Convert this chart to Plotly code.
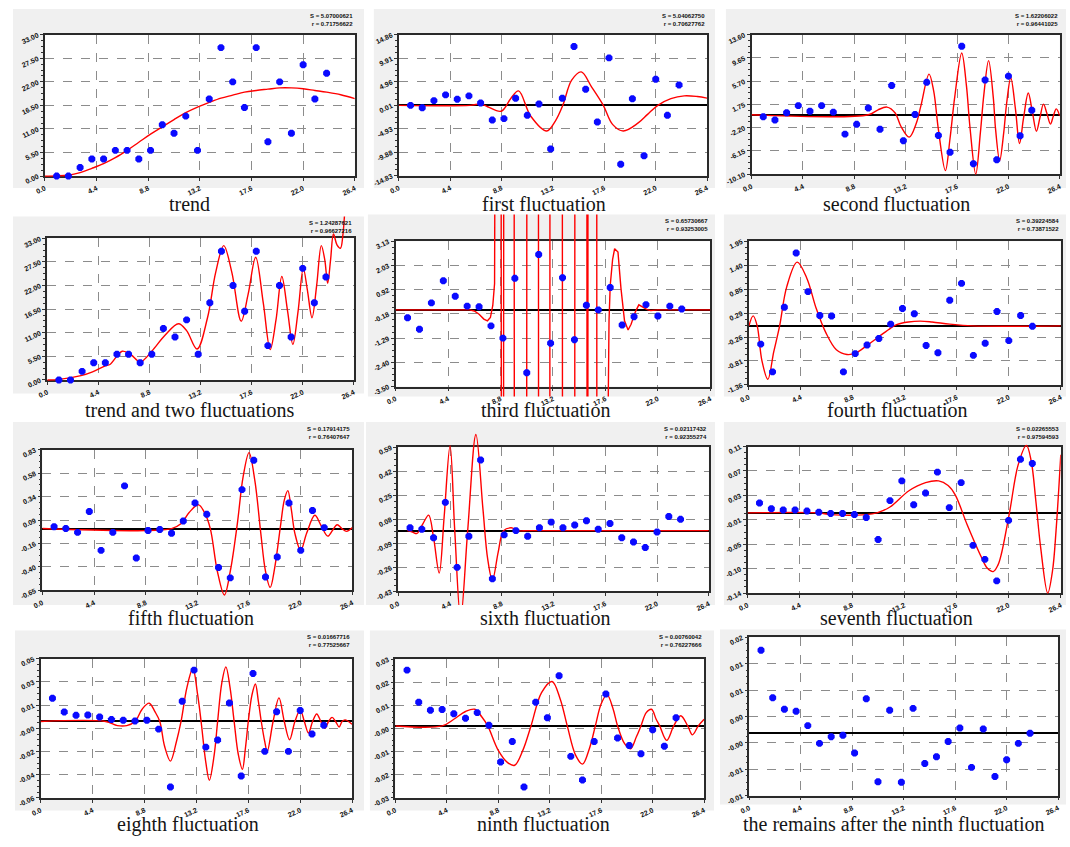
import numpy as np
import plotly.graph_objects as go

W, H = 1070, 847

# ---------------- data ----------------
X_POINTS = list(range(1, 25))
X_TICKS = [0.0, 4.4, 8.8, 13.2, 17.6, 22.0, 26.4]
X_TICK_LABELS = ['0.0', '4.4', '8.8', '13.2', '17.6', '22.0', '26.4']

CAPTIONS = ["trend", "first fluctuation", "second fluctuation",
            "trend and two fluctuations", "third fluctuation", "fourth fluctuation",
            "fifth fluctuation", "sixth fluctuation", "seventh fluctuation",
            "eighth fluctuation", "ninth fluctuation", "the remains after the ninth fluctuation"]

STATS = [("5.07000621", "0.71756622"), ("5.04062750", "0.70627762"), ("1.62206022", "0.96441025"),
         ("1.24287621", "0.96627216"), ("0.65730667", "0.93253005"), ("0.39224584", "0.73871522"),
         ("0.17914175", "0.76407647"), ("0.02117432", "0.92355274"), ("0.02265553", "0.97594593"),
         ("0.01667716", "0.77525667"), ("0.00760042", "0.76227666"), None]

Y_RANGES = [(0, 33), (-14.83, 14.86), (-10.10, 13.60), (0, 33), (-3.50, 3.13), (-1.36, 1.95),
            (-0.652, 0.83), (-0.43, 0.59), (-0.138, 0.114), (-0.056, 0.046), (-0.0324, 0.030),
            (-0.013, 0.020)]
Y_TICK_LABELS = [
    ['0.00', '5.50', '11.00', '16.50', '22.00', '27.50', '33.00'],
    ['-14.83', '-9.88', '-4.93', '0.01', '4.96', '9.91', '14.86'],
    ['-10.10', '-6.15', '-2.20', '1.75', '5.70', '9.65', '13.60'],
    ['0.00', '5.50', '11.00', '16.50', '22.00', '27.50', '33.00'],
    ['-3.50', '-2.40', '-1.29', '-0.18', '0.92', '2.03', '3.13'],
    ['-1.36', '-0.81', '-0.26', '0.29', '0.85', '1.40', '1.95'],
    ['-0.65', '-0.40', '-0.16', '0.09', '0.34', '0.58', '0.83'],
    ['-0.43', '-0.26', '-0.09', '0.08', '0.25', '0.42', '0.59'],
    ['-0.14', '-0.10', '-0.05', '-0.01', '0.03', '0.07', '0.11'],
    ['-0.06', '-0.04', '-0.02', '-0.00', '0.01', '0.03', '0.05'],
    ['-0.03', '-0.02', '-0.01', '-0.00', '0.01', '0.02', '0.03'],
    ['-0.01', '-0.01', '-0.00', '0.00', '0.01', '0.01', '0.02'],
]

TREND_DATA = [0, 0, 2, 4, 4, 6, 6, 4, 6, 12, 10, 14, 6, 18, 30, 22, 16, 30, 8, 22, 10, 26, 18, 24]
FLUCT1_DATA = [0.0, -0.5, 1.0, 2.2, 1.3, 2.0, 0.5, -3.1, -2.8, 1.5, -2.1, 0.3, -9.2, 1.5, 12.4, 3.4,
               -3.5, 10.0, -12.4, 1.4, -10.6, 5.5, -2.1, 4.3]
FLUCT2_DATA = [-0.34, -0.9, 0.33, 1.55, 0.6, 1.55, 0.44, -3.3, -1.63, 1.16, -2.46, 4.96, -4.41, 0.05,
               5.51, -3.52, -6.37, 11.65, -8.32, 5.9, -7.65, 6.57, -3.58, 0.77]
FLUCT3_DATA = [-0.36, -0.88, 0.32, 1.33, 0.62, 0.17, 0.14, -0.73, -1.29, 1.44, -2.87, 2.53, -1.52,
               1.47, -1.36, 0.21, 0.0, 1.02, -0.69, -0.31, 0.24, -0.28, 0.17, 0.04]
FLUCT4_DATA = [-0.42, -1.06, 0.43, 1.68, 0.79, 0.24, 0.23, -1.06, -0.64, -0.44, -0.29, 0.04, 0.40,
               0.28, -0.45, -0.62, 0.59, 0.98, -0.68, -0.40, 0.33, -0.34, 0.24, -0.01]
FLUCT5_DATA = [0.02, 0.00, -0.04, 0.18, -0.23, -0.04, 0.45, -0.31, -0.02, -0.01, -0.05, 0.08, 0.27,
               0.15, -0.41, -0.52, 0.41, 0.72, -0.51, -0.30, 0.27, -0.23, 0.19, 0.01]
FLUCT6_DATA = [0.02, 0.01, -0.05, 0.20, -0.26, -0.04, 0.50, -0.34, -0.03, 0.00, -0.04, 0.02, 0.06,
               0.02, 0.04, 0.07, 0.01, 0.05, -0.05, -0.08, -0.12, -0.01, 0.10, 0.08]
FLUCT7_DATA = [0.017, 0.007, 0.005, 0.005, 0.003, 0.001, -0.001, -0.001, -0.003, -0.008, -0.046,
               0.021, 0.055, 0.014, 0.034, 0.070, 0.009, 0.052, -0.056, -0.080, -0.117, -0.013,
               0.092, 0.085]
FLUCT8_DATA = [0.017, 0.007, 0.0045, 0.0047, 0.0033, 0.0014, 0.0009, 0.0004, 0.0009, -0.0056,
               -0.048, 0.0148, 0.0376, -0.0188, -0.0135, 0.0136, -0.0399, 0.0352, -0.0219, 0.0071,
               -0.0219, 0.0081, -0.0092, -0.0027]
FLUCT9_DATA = [0.0251, 0.0107, 0.0071, 0.0074, 0.0055, 0.0035, 0.0060, 0.0003, -0.0162, -0.0070,
               -0.0275, 0.0107, 0.0037, 0.0226, -0.0137, -0.0243, -0.0070, 0.0144, -0.0054,
               -0.0088, -0.0125, -0.0017, -0.0091, 0.0037]
REMAINS_DATA = [0.0173, 0.0074, 0.0050, 0.0046, 0.0016, -0.0021, -0.0007, -0.0004, -0.0041, 0.0072,
                -0.0101, 0.0048, -0.0102, 0.0052, -0.0063, -0.0049, -0.0017, 0.0011, -0.0071,
                0.0009, -0.0090, -0.0055, -0.0021, 0.0000]

# fitted curves
TREND_FIT_X = [0, 1, 2, 3, 4, 5, 6, 7, 8, 9, 10, 11, 12, 13, 14, 15, 16, 17, 18, 19, 20, 21, 22,
               23, 24, 25.2, 26.4]
TREND_FIT_Y = [0, 0.05, 0.2, 0.8, 1.8, 2.9, 4.3, 6.0, 7.9, 9.8, 11.5, 13.2, 14.8, 16.1, 17.2, 18.2,
               18.9, 19.6, 20.0, 20.3, 20.6, 20.6, 20.4, 20.0, 19.6, 19.0, 18.1]

FIT1_X = [0, 6.1, 7.0, 7.6, 8.76, 9.6, 10.25, 11.3, 12.66, 13.4, 14.04, 14.8, 15.62, 16.5, 17.51,
          18.3, 19.21, 20.5, 21.3, 22.18, 23.3, 24.44, 25.56, 26.4]
FIT1_Y = [0, 0, 0.3, -0.3, -1.24, 1.5, 3.04, -2.3, -5.39, -3.3, 0, 5.3, 7.04, 3.9, 0, -4.0, -5.39,
          -3.7, -1.9, 0, 1.4, 2.0, 1.86, 1.52]

FIT2_X = [0, 10.0, 10.8, 11.6, 12.3, 12.8, 13.5, 14.1, 14.5, 15.2, 15.6, 16.0, 16.6, 17.0, 17.4,
          18.0, 18.4, 18.7, 19.2, 19.6, 19.9, 20.3, 20.7, 20.9, 21.25, 21.6, 21.85, 22.2, 22.6,
          22.95, 23.3, 23.7, 24.05, 24.4, 24.7, 25.0, 25.3, 25.6, 25.85, 26.1, 26.4]
FIT2_Y = [0, 0, 0.8, 1.3, 0.3, -2.0, -3.8, -1.5, 1.5, 6.9, 4.0, -2.5, -9.5, -4.0, 3.0, 10.5, 5.0,
          -2.0, -10.1, -3.0, 3.5, 9.2, 3.0, -2.5, -7.8, -3.0, 2.0, 6.3, 1.0, -4.9, -0.5, 3.7, 0.5,
          -2.8, -0.5, 1.8, 0.2, -1.6, -0.2, 1.0, -0.2]

FIT_T2_X = [0, 1.05, 2.9, 3.9, 5.0, 5.4, 6.45, 7.2, 8.0, 9.0, 10.1, 11.3, 12.0, 12.9, 13.8, 14.5,
            15.2, 15.9, 16.7, 17.3, 17.95, 18.6, 19.2, 19.7, 20.2, 20.7, 21.15, 21.6, 22.05, 22.4,
            22.8, 23.2, 23.6, 23.9, 24.15, 24.4, 24.65, 24.95, 25.25, 25.45, 26.0]
FIT_T2_Y = [0, 0.15, 1.0, 1.9, 3.3, 3.6, 6.7, 5.9, 4.2, 6.7, 10.3, 13.1, 11.5, 7.2, 14.5, 25,
            31.3, 25, 13.7, 20, 28.6, 18, 7.1, 14, 24.1, 16, 8.3, 16, 26.0, 21, 14.5, 22, 31.3, 28,
            22.5, 28, 34.0, 31.5, 30.7, 33.5, 60]

FIT3_X = [0, 6.2, 6.6, 7.0, 7.4, 7.7, 7.95, 8.15, 8.3, 8.43, 8.55, 8.8, 8.92, 9.0, 9.12, 9.9, 10.0,
          10.95, 11.05, 11.95, 12.02, 12.9, 12.98, 13.95, 14.03, 15.0, 15.06, 16.0, 16.05, 16.1,
          16.16, 16.85, 16.9, 17.75, 17.82, 17.9, 18.0, 18.2, 18.37, 18.65, 18.9, 19.2, 19.5,
          19.75, 20.1, 20.4, 20.8, 21.1, 21.4, 22.0, 26.4]
FIT3_Y = [0, 0, -0.05, -0.2, -0.42, -0.5, -0.35, 0.2, 1.2, 3.0, 50, 50, -50, -50, 50, 50, -50,
          -50, 50, 50, -50, -50, 50, 50, -50, -50, 50, 50, -50, -50, 50, 50, -50, -50, -5, -0.5,
          1.11, 2.3, 2.79, 2.64, 0.99, -0.5, -0.92, -0.66, -0.1, 0.23, 0.1, 0.01, -0.03, 0, 0]

FIT4_X = [0, 0.36, 0.7, 1.1, 1.6, 2.1, 2.6, 3.2, 4.08, 4.9, 5.7, 6.5, 7.4, 8.3, 9.0, 10.0, 11.0,
          12.0, 12.5, 13.5, 14.5, 15.5, 17.0, 18.9, 26.4]
FIT4_Y = [0, 0.23, 0.0, -0.8, -1.23, -0.6, 0.0, 0.9, 1.47, 1.1, 0.4, -0.15, -0.55, -0.66, -0.63,
          -0.45, -0.25, -0.05, 0.03, 0.09, 0.11, 0.09, 0.04, 0.0, 0]

FIT5_X = [0, 11.0, 11.8, 12.5, 13.3, 13.8, 14.3, 14.9, 15.5, 16.0, 16.6, 17.1, 17.6, 18.1, 18.6,
          19.0, 19.4, 19.8, 20.3, 20.6, 20.9, 21.2, 21.5, 22.0, 22.5, 23.2, 23.7, 24.3, 24.7, 25.1,
          25.5, 25.9, 26.4]
FIT5_Y = [0, 0, 0.05, 0.17, 0.25, 0.17, 0.0, -0.45, -0.70, -0.45, 0.05, 0.55, 0.80, 0.5, -0.05,
          -0.45, -0.62, -0.4, 0.05, 0.3, 0.40, 0.2, -0.05, -0.23, -0.05, 0.14, 0.04, -0.08, -0.02,
          0.04, 0.0, -0.03, 0.01]

FIT6_X = [0.76, 1.2, 1.6, 2.1, 2.58, 3.0, 3.48, 3.9, 4.4, 4.8, 5.3, 5.9, 6.6, 7.2, 7.6, 8.0, 8.5,
          8.95, 9.6, 10.2, 11.1, 26.4]
FIT6_Y = [0, -0.01, -0.02, 0.05, 0.11, -0.05, -0.30, 0.1, 0.60, 0.0, -0.62, 0.0, 0.68, 0.15, -0.2,
          -0.35, -0.15, 0.0, 0.02, 0.0, 0, 0]

FIT7_X = [0, 5.9, 7.0, 10.0, 10.9, 12.0, 13.6, 15.0, 16.1, 16.9, 17.5, 18.5, 19.7, 20.2, 20.7,
          21.1, 21.4, 22.1, 22.8, 23.5, 23.9, 24.3, 24.7, 25.3, 25.7, 26.0, 26.4]
FIT7_Y = [0, 0, -0.003, -0.003, 0, 0.010, 0.038, 0.052, 0.055, 0.047, 0.031, -0.020, -0.076,
          -0.095, -0.101, -0.09, -0.070, 0.003, 0.082, 0.116, 0.09, 0.020, -0.059, -0.138, -0.10,
          -0.031, 0.10]

FIT8_X = [0, 5.5, 6.5, 7.3, 8.0, 8.6, 9.2, 9.7, 10.1, 10.5, 11.0, 11.5, 11.9, 12.4, 12.9, 13.3,
          13.6, 14.0, 14.3, 14.7, 15.0, 15.35, 15.7, 16.05, 16.4, 16.75, 17.1, 17.35, 17.6, 17.9,
          18.2, 18.45, 18.7, 19.0, 19.2, 19.7, 20.2, 20.65, 21.1, 21.55, 22.0, 22.35, 22.7, 23.05,
          23.4, 23.75, 24.1, 24.4, 24.7, 25.0, 25.3, 25.55, 25.8, 26.4]
FIT8_Y = [0, 0, -0.003, -0.003, 0, 0.009, 0.0134, 0.007, 0, -0.018, -0.029, -0.015, 0, 0.025,
          0.0388, 0.02, 0, -0.03, -0.043, -0.025, 0, 0.028, 0.040, 0.025, 0, -0.024, -0.035,
          -0.02, 0, 0.019, 0.0275, 0.015, 0, -0.015, -0.022, 0, 0.0173, 0, -0.0134, 0, 0.0085, 0,
          -0.0084, 0, 0.0055, 0, -0.005, 0, 0.003, 0, -0.004, 0, 0.0012, -0.002]

FIT9_X = [0, 4.0, 5.0, 6.0, 6.8, 7.4, 7.9, 8.8, 9.6, 10.2, 10.9, 11.6, 12.5, 13.4, 14.1, 14.7,
          15.4, 16.0, 16.6, 17.1, 17.6, 18.1, 18.6, 19.0, 19.6, 20.1, 20.6, 21.0, 21.45, 21.9, 22.3,
          22.6, 23.2, 23.8, 24.4, 25.0, 25.4, 25.9, 26.4]
FIT9_Y = [0, 0, 0.003, 0.0065, 0.0075, 0.004, 0, -0.011, -0.0165, -0.0177, -0.011, 0, 0.015,
          0.020, 0.012, 0, -0.013, -0.0172, -0.01, 0, 0.01, 0.0141, 0.008, 0, -0.008, -0.0103,
          -0.005, 0, 0.006, 0.0075, 0.003, 0, -0.0065, 0, 0.0046, 0, -0.0040, 0, 0.003]

POINT_SERIES = [TREND_DATA, FLUCT1_DATA, FLUCT2_DATA, TREND_DATA, FLUCT3_DATA, FLUCT4_DATA,
                FLUCT5_DATA, FLUCT6_DATA, FLUCT7_DATA, FLUCT8_DATA, FLUCT9_DATA, REMAINS_DATA]
FIT_SERIES = [(TREND_FIT_X, TREND_FIT_Y), (FIT1_X, FIT1_Y), (FIT2_X, FIT2_Y), (FIT_T2_X, FIT_T2_Y),
              (FIT3_X, FIT3_Y), (FIT4_X, FIT4_Y), (FIT5_X, FIT5_Y), (FIT6_X, FIT6_Y),
              (FIT7_X, FIT7_Y), (FIT8_X, FIT8_Y), (FIT9_X, FIT9_Y), None]

# ---------------- layout (pixel boxes) ----------------
PLOT_BOX = [(35.3, 348.7, 32.3, 176), (393.3, 705, 32.3, 175.7), (750, 1061.7, 32.3, 174),
            (37.7, 347.7, 239.3, 383.3), (390, 708.3, 242.3, 390), (747.3, 1062.7, 242.3, 388.3),
            (32.7, 346.3, 454.3, 597.3), (392.7, 706.7, 451.7, 598.3), (746, 1062.7, 451, 600),
            (31, 346, 666.7, 808.3), (389.7, 702, 667.3, 808.3), (747.7, 1060, 645, 806)]
GRAY_BOX = [(3, 358, 6, 188), (368, 713, 6, 188), (724, 1068, 6, 188),
            (3, 358, 217, 397), (362, 713, 215, 400), (722, 1068, 215, 400),
            (3, 358, 426, 612), (360, 713, 426, 612), (722, 1068, 426, 612),
            (5, 358, 638, 821), (364, 712, 638, 821), (718, 1068, 637, 815)]
CAPTION_POS = [(182, 204), (540, 204), (897, 204), (182, 414), (542, 414), (898, 414),
               (183, 625), (542, 625), (897, 625), (180, 835), (540, 835), (894, 835)]
LINE_SHAPES = ['spline'] * 12
LINE_SHAPES[4] = 'linear'


def fx(p):
    return p / W


def fy(p):
    return 1 - p / H


fig = go.Figure()
shapes, annotations, axes = [], [], {}
tickfont = dict(family='Liberation Sans, Arial', size=7, color='#111', weight='bold')

# main (decorated) subplots first: they carry grid, frame, ticks and the zero line
for i in range(12):
    n = i + 1
    xr = 'x' if n == 1 else f'x{n}'
    yr = 'y' if n == 1 else f'y{n}'
    fig.add_trace(go.Scatter(x=[], y=[], xaxis=xr, yaxis=yr, mode='markers',
                             hoverinfo='skip'))

for i in range(12):
    n, a = i + 1, i + 13
    xk = 'xaxis' if n == 1 else f'xaxis{n}'
    yk = 'yaxis' if n == 1 else f'yaxis{n}'
    xr = 'x' if n == 1 else f'x{n}'
    yr = 'y' if n == 1 else f'y{n}'
    gx0, gx1, gy0, gy1 = GRAY_BOX[i]
    x0, x1, y0, y1 = PLOT_BOX[i]
    shapes.append(dict(type='rect', xref='paper', yref='paper', x0=fx(gx0), x1=fx(gx1),
                       y0=fy(gy1), y1=fy(gy0), fillcolor='#f0f0f0', line=dict(width=0),
                       layer='below'))
    shapes.append(dict(type='rect', xref='paper', yref='paper', x0=fx(x0), x1=fx(x1),
                       y0=fy(y1), y1=fy(y0), fillcolor='white', line=dict(width=0),
                       layer='below'))
    r0, r1 = Y_RANGES[i]
    dom_x = [fx(x0), fx(x1)]
    dom_y = [fy(y1), fy(y0)]
    yt = list(np.linspace(r0, r1, 7))
    ym = list(np.linspace(r0, r1, 25))
    common = dict(showgrid=True, gridcolor='#8c8c8c', griddash='dash', gridwidth=1,
                  showline=True, linecolor='#2a2a2a', linewidth=1.6, mirror=True,
                  ticks='outside', ticklen=3, tickcolor='#333', tickfont=tickfont,
                  tickangle=-25, fixedrange=True, ticklabelstandoff=1)
    axes[xk] = dict(domain=dom_x, range=[0, 26.4], anchor=yr, tickmode='array',
                    tickvals=X_TICKS, ticktext=X_TICK_LABELS, zeroline=False, **common)
    axes[yk] = dict(domain=dom_y, range=[r0, r1], anchor=xr, tickmode='array', tickvals=yt,
                    ticktext=Y_TICK_LABELS[i], zeroline=True, zerolinecolor='#000',
                    zerolinewidth=1.5,
                    minor=dict(tickmode='array', tickvals=ym, ticks='outside', ticklen=2,
                               tickcolor='#333', showgrid=False),
                    **common)
    # auxiliary (invisible) axes spanning the whole panel box so curves can overshoot
    dom_y2 = [fy(gy1), fy(gy0)]
    k = (r1 - r0) / (dom_y[1] - dom_y[0])
    R0 = r0 - (dom_y[0] - dom_y2[0]) * k
    R1 = r1 + (dom_y2[1] - dom_y[1]) * k
    axes[f'xaxis{a}'] = dict(domain=dom_x, range=[0, 26.4], anchor=f'y{a}', visible=False,
                             fixedrange=True)
    axes[f'yaxis{a}'] = dict(domain=dom_y2, range=[R0, R1], anchor=f'x{a}', visible=False,
                             fixedrange=True)
    if FIT_SERIES[i] is not None:
        cx, cy = FIT_SERIES[i]
        fig.add_trace(go.Scatter(x=cx, y=cy, mode='lines', xaxis=f'x{a}', yaxis=f'y{a}',
                                 line=dict(color='#ff0000', width=1.4, shape=LINE_SHAPES[i]),
                                 hoverinfo='skip'))
    fig.add_trace(go.Scatter(x=X_POINTS, y=POINT_SERIES[i], mode='markers', xaxis=f'x{a}',
                             yaxis=f'y{a}',
                             marker=dict(color='#0a0aff', size=7.5, symbol='octagon',
                                         line=dict(width=0))))
    cxp, cyp = CAPTION_POS[i]
    annotations.append(dict(x=fx(cxp), y=fy(cyp), xref='paper', yref='paper',
                            text=CAPTIONS[i], showarrow=False, xanchor='center',
                            yanchor='middle',
                            font=dict(family='Liberation Serif, Times New Roman', size=20,
                                      color='#151515')))
    if STATS[i] is not None:
        s, r = STATS[i]
        annotations.append(dict(x=fx(x1), y=fy(gy0 + 2), xref='paper', yref='paper',
                                text=f"S = {s}<br>r = {r}", showarrow=False,
                                xanchor='right', yanchor='top', align='right',
                                font=dict(family='Liberation Sans, Arial', size=6,
                                          color='#111', weight='bold')))

fig.update_layout(width=W, height=H, margin=dict(l=0, r=0, t=0, b=0),
                  paper_bgcolor='white', plot_bgcolor='rgba(0,0,0,0)', showlegend=False,
                  shapes=shapes, annotations=annotations, hovermode=False, **axes)

fig.write_html("out.html")
